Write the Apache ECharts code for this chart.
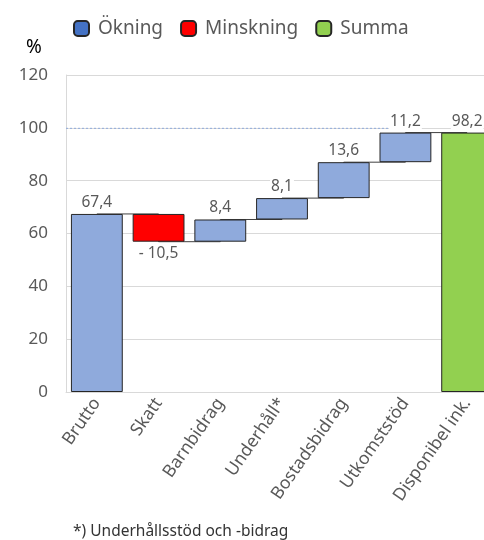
<!DOCTYPE html>
<html><head><meta charset="utf-8">
<script src="https://cdn.jsdelivr.net/npm/echarts@6/dist/echarts.min.js"></script>
<style>html,body{margin:0;padding:0;background:#fff}#c{width:484px;height:540px}</style>
</head><body><div id="c"></div>
<script>
// ---- data ----
const categories = ['Brutto', 'Skatt', 'Barnbidrag', 'Underhåll*', 'Bostadsbidrag', 'Utkomststöd', 'Disponibel ink.'];
const kinds = ['inc', 'dec', 'inc', 'inc', 'inc', 'inc', 'sum'];
const values = [67.4, -10.5, 8.4, 8.1, 13.6, 11.2, 98.2];
const legendNames = ['Ökning', 'Minskning', 'Summa'];
const yTicks = [0, 20, 40, 60, 80, 100, 120];
const refLevel = 100;
const refEndCategory = 'Utkomststöd';
const footnote = '*) Underhållsstöd och -bidrag';
const unitLabel = '%';

// ---- derived waterfall stacks ----
const base = [], inc = [], dec = [], sum = [], levels = [];
let level = 0;
values.forEach((v, i) => {
  if (kinds[i] === 'sum') {
    base.push(0); inc.push('-'); dec.push('-'); sum.push(v); level = v;
  } else if (v >= 0) {
    base.push(level); inc.push(v); dec.push('-'); sum.push('-'); level += v;
  } else {
    level += v; base.push(level); inc.push('-'); dec.push(-v); sum.push('-');
  }
  levels.push(+level.toFixed(2));
});
const fmt = v => v.toFixed(1).replace('.', ',');
const font = 'Noto Sans';
const txt = '#595959';
const border = '#262626';
const labelBase = { show: true, fontFamily: font, fontSize: 15.5, color: txt, distance: 3, backgroundColor: '#fff', padding: [0, 1], lineHeight: 17 };

const chart = echarts.init(document.getElementById('c'), null, { renderer: 'canvas' });
chart.setOption({
  animation: false,
  backgroundColor: '#fff',
  textStyle: { fontFamily: font },
  legend: {
    left: 73, top: 19, padding: 0, itemWidth: 15, itemHeight: 15, itemGap: 17,
    textStyle: { fontFamily: font, fontSize: 19, color: txt, padding: [0, 0, 0, 4] },
    data: [
      { name: legendNames[0], itemStyle: { color: '#4472c4' } },
      { name: legendNames[1] },
      { name: legendNames[2] }
    ]
  },
  graphic: [
    { type: 'text', left: 26, top: 38, style: { text: unitLabel, font: '19px "Noto Sans"', fill: '#000' } },
    { type: 'text', left: 73, top: 524, style: { text: footnote, font: '15.5px "Noto Sans"', fill: '#333' } }
  ],
  grid: { left: 66, top: 75, height: 317, width: 432, containLabel: false, outerBoundsMode: 'none' },
  xAxis: {
    type: 'category', data: categories,
    axisLine: { lineStyle: { color: '#d9d9d9' } },
    axisTick: { show: false },
    axisLabel: { interval: 0, rotate: 55, fontFamily: font, fontSize: 17.5, color: txt, margin: 8 }
  },
  yAxis: {
    type: 'value', min: yTicks[0], max: yTicks[yTicks.length - 1], interval: yTicks[1] - yTicks[0],
    axisLine: { show: true, lineStyle: { color: '#d9d9d9' } },
    axisTick: { show: false },
    splitLine: { lineStyle: { color: '#d9d9d9' } },
    axisLabel: { fontFamily: font, fontSize: 17, color: txt, margin: 18, padding: [4, 0, 0, 0] }
  },
  series: [
    {
      name: 'connector', type: 'line', step: 'end', data: levels, z: 1, silent: true,
      symbol: 'none', lineStyle: { color: '#404040', width: 1 }
    },
    {
      name: 'ref', type: 'custom', z: 1, silent: true,
      data: [[categories.indexOf(refEndCategory), refLevel]],
      renderItem(params, api) {
        const p = api.coord([api.value(0), api.value(1)]);
        return { type: 'line', shape: { x1: params.coordSys.x, y1: p[1] + 0.5, x2: p[0], y2: p[1] + 0.5 },
          style: { stroke: '#8faadc', lineWidth: 1, lineDash: [2, 2] } };
      }
    },
    {
      name: 'base', type: 'bar', stack: 'w', data: base, silent: true, barCategoryGap: '16%',
      itemStyle: { color: 'rgba(0,0,0,0)' }
    },
    {
      name: legendNames[0], type: 'bar', stack: 'w', data: inc, z: 2,
      itemStyle: { color: '#8faadc', borderColor: border, borderWidth: 1 },
      label: Object.assign({}, labelBase, { position: 'top', formatter: p => fmt(p.value) })
    },
    {
      name: legendNames[1], type: 'bar', stack: 'w', data: dec, z: 2,
      itemStyle: { color: '#ff0000', borderColor: border, borderWidth: 1 },
      label: Object.assign({}, labelBase, { position: 'bottom', formatter: p => '- ' + fmt(p.value) })
    },
    {
      name: legendNames[2], type: 'bar', stack: 'w', data: sum, z: 2,
      itemStyle: { color: '#92d050', borderColor: border, borderWidth: 1 },
      label: Object.assign({}, labelBase, { position: 'top', formatter: p => fmt(p.value) })
    }
  ]
});
</script></body></html>
